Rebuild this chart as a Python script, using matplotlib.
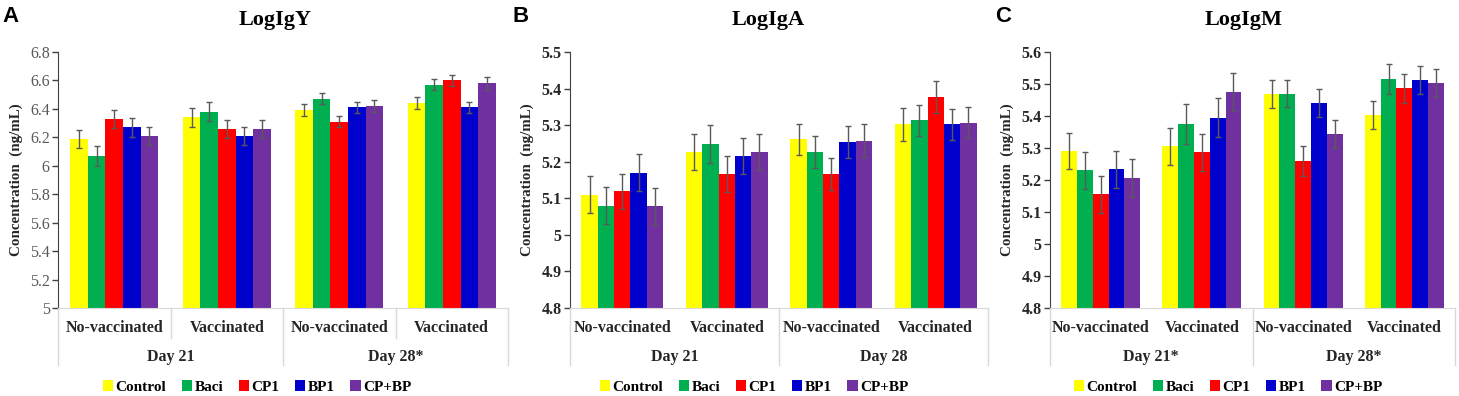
import matplotlib
matplotlib.use("Agg")
import matplotlib.pyplot as plt
from matplotlib.patches import Patch
from matplotlib.lines import Line2D
from matplotlib.ticker import FuncFormatter, MultipleLocator
import numpy as np

# Data
treatments = ["Control", "Baci", "CP1", "BP1", "CP+BP"]
colors = ["#FFFF00", "#00B050", "#FF0000", "#0000CC", "#7030A0"]
groups = ["No-vaccinated", "Vaccinated", "No-vaccinated", "Vaccinated"]

# rows = treatments, cols = groups
igy_mean = [[6.19, 6.34, 6.39, 6.44],
            [6.07, 6.38, 6.47, 6.57],
            [6.33, 6.26, 6.31, 6.60],
            [6.27, 6.21, 6.41, 6.41],
            [6.21, 6.26, 6.42, 6.58]]
igy_err = [[0.064, 0.065, 0.042, 0.044],
           [0.069, 0.068, 0.039, 0.040],
           [0.063, 0.065, 0.040, 0.040],
           [0.065, 0.065, 0.041, 0.040],
           [0.065, 0.065, 0.043, 0.044]]

iga_mean = [[5.110, 5.226, 5.261, 5.302],
            [5.080, 5.248, 5.226, 5.313],
            [5.119, 5.166, 5.166, 5.377],
            [5.170, 5.215, 5.254, 5.302],
            [5.078, 5.226, 5.258, 5.307]]
iga_err = [[0.050, 0.050, 0.043, 0.045],
           [0.051, 0.052, 0.044, 0.043],
           [0.048, 0.050, 0.043, 0.044],
           [0.051, 0.049, 0.043, 0.042],
           [0.050, 0.049, 0.044, 0.043]]

igm_mean = [[5.290, 5.306, 5.470, 5.402],
            [5.231, 5.376, 5.470, 5.515],
            [5.155, 5.286, 5.260, 5.486],
            [5.233, 5.395, 5.440, 5.512],
            [5.207, 5.474, 5.343, 5.504]]
igm_err = [[0.056, 0.058, 0.044, 0.044],
           [0.058, 0.062, 0.042, 0.046],
           [0.059, 0.059, 0.046, 0.044],
           [0.059, 0.060, 0.044, 0.044],
           [0.059, 0.059, 0.043, 0.044]]

panels = [
    dict(letter="A", title="LogIgY", mean=igy_mean, err=igy_err, ylim=(5, 6.8), step=0.2,
         days=["Day 21", "Day 28*"], rect=[58, 508], bold_ticks=False, short_sep=True,
         ylab_x=-0.092, title_x=0.482, legend_x=257, letter_x=2),
    dict(letter="B", title="LogIgA", mean=iga_mean, err=iga_err, ylim=(4.8, 5.5), step=0.1,
         days=["Day 21", "Day 28"], rect=[570, 988], bold_ticks=True, short_sep=False,
         ylab_x=-0.103, title_x=0.474, legend_x=754, letter_x=513),
    dict(letter="C", title="LogIgM", mean=igm_mean, err=igm_err, ylim=(4.8, 5.6), step=0.1,
         days=["Day 21*", "Day 28*"], rect=[1050, 1455], bold_ticks=True, short_sep=False,
         ylab_x=-0.106, title_x=0.477, legend_x=1228, letter_x=995),
]

W, H = 1459, 396
plt.rcParams["font.family"] = ["Liberation Serif", "DejaVu Serif"]
fig = plt.figure(figsize=(W / 100, H / 100), dpi=100)

bar_w = 0.156
x = np.arange(len(groups))
sep_color = "#D9D9D9"

for p in panels:
    left, right = p["rect"]
    ax = fig.add_axes([left / W, 1 - 308 / H, (right - left) / W, 256 / H])
    for i, (name, c) in enumerate(zip(treatments, colors)):
        ax.bar(x + (i - 2) * bar_w, p["mean"][i], width=bar_w, color=c,
               yerr=p["err"][i], error_kw=dict(ecolor="#595959", elinewidth=1.0,
                                              capsize=2.5, capthick=1.0))
    ax.set_xlim(-0.5, 3.5)
    ax.set_ylim(*p["ylim"])
    ax.yaxis.set_major_locator(MultipleLocator(p["step"]))
    ax.yaxis.set_major_formatter(FuncFormatter(lambda v, _: f"{v:g}"))
    ax.set_xticks([])
    for s in ["top", "right"]:
        ax.spines[s].set_visible(False)
    ax.spines["left"].set_color("#404040")
    ax.spines["bottom"].set_color(sep_color)
    tick_col = "#262626" if p["bold_ticks"] else "#595959"
    ax.tick_params(axis="y", length=4, width=1, color="#404040", pad=2,
                   labelsize=11.5, labelcolor=tick_col)
    if p["bold_ticks"]:
        for lab in ax.get_yticklabels():
            lab.set_fontweight("bold")

    # multi-level category axis
    for g, name in enumerate(groups):
        ax.text(g, -0.078, name, transform=ax.get_xaxis_transform(), ha="center",
                va="center", fontsize=11.5, fontweight="bold", color="#262626")
    for d, day in enumerate(p["days"]):
        ax.text(0.5 + 2 * d, -0.19, day, transform=ax.get_xaxis_transform(), ha="center",
                va="center", fontsize=11.5, fontweight="bold", color="#262626")
    for xs in [-0.5, 1.5, 3.5]:
        ax.add_line(Line2D([xs, xs], [0, -0.223], transform=ax.get_xaxis_transform(),
                           color=sep_color, lw=1, clip_on=False))
    if p["short_sep"]:
        for xs in [0.5, 2.5]:
            ax.add_line(Line2D([xs, xs], [0, -0.117], transform=ax.get_xaxis_transform(),
                               color=sep_color, lw=1, clip_on=False))

    ax.text(p["ylab_x"], 0.5, "Concentration  (ng/mL)", transform=ax.transAxes,
            rotation=90, ha="center", va="center", fontsize=10.8, fontweight="bold",
            color="#262626")
    ax.text(p["title_x"], 1.125, p["title"], transform=ax.transAxes, ha="center",
            va="center", fontsize=16, fontweight="bold")
    fig.text(p["letter_x"] / W, 1 - 16 / H, p["letter"], ha="left", va="center",
             fontsize=16, fontweight="bold", family="Liberation Sans")

    handles = [Patch(facecolor=c, edgecolor="none") for c in colors]
    fig.legend(handles, treatments, loc="center", bbox_to_anchor=(p["legend_x"] / W, 9 / H),
               ncol=5, frameon=False, handlelength=0.7, handleheight=0.7,
               handletextpad=0.15, columnspacing=1.0, borderpad=0,
               prop=dict(family="Liberation Serif", weight="bold", size=11))

fig.savefig("out.png", dpi=100)
